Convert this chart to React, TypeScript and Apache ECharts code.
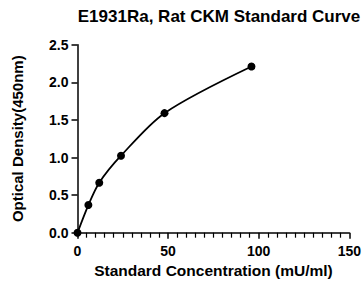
import React, { useEffect, useRef } from "react";
import * as echarts from "echarts";

const concentrations = [0, 6, 12, 24, 48, 96];
const densities = [0.0, 0.368, 0.665, 1.024, 1.59, 2.21];
const titleText = "E1931Ra, Rat CKM Standard Curve";
const xName = "Standard Concentration (mU/ml)";
const yName = "Optical Density(450nm)";

export default function App() {
  const ref = useRef<HTMLDivElement>(null);
  useEffect(() => {
    const chart = echarts.init(ref.current!, null, { renderer: "svg" });
    const font = "Liberation Sans, Arial, sans-serif";
    chart.setOption({
      animation: false,
      title: {
        text: titleText,
        left: 214,
        top: 3,
        textAlign: "center",
        textStyle: { fontFamily: font, fontWeight: "bold", fontSize: 17, color: "#000" },
      },
      grid: { left: 77.5, right: 11.5, top: 44.7, bottom: 53.3 },
      xAxis: {
        type: "value",
        min: 0,
        max: 150,
        interval: 50,
        name: xName,
        nameLocation: "middle",
        nameGap: 30,
        nameTextStyle: { fontFamily: font, fontWeight: "bold", fontSize: 15.5, color: "#000" },
        axisLine: { lineStyle: { color: "#000", width: 1.5 } },
        axisTick: { length: 6, lineStyle: { color: "#000", width: 1.5 } },
        minorTick: { show: true, splitNumber: 10, length: 5, lineStyle: { color: "#000", width: 1.2 } },
        axisLabel: { fontFamily: font, fontWeight: "bold", fontSize: 14, color: "#000", margin: 11 },
        splitLine: { show: false },
      },
      yAxis: {
        type: "value",
        min: 0,
        max: 2.5,
        interval: 0.5,
        name: yName,
        nameLocation: "middle",
        nameGap: 53,
        nameTextStyle: { fontFamily: font, fontWeight: "bold", fontSize: 15, color: "#000" },
        axisLine: { show: true, lineStyle: { color: "#000", width: 1.5 } },
        axisTick: { show: true, length: 6, lineStyle: { color: "#000", width: 1.5 } },
        axisLabel: {
          fontFamily: font,
          fontWeight: "bold",
          fontSize: 14,
          color: "#000",
          margin: 9,
          formatter: (v: number) => v.toFixed(1),
        },
        splitLine: { show: false },
      },
      series: [
        {
          type: "line",
          data: concentrations.map((c, i) => [c, densities[i]]),
          smooth: 0.3,
          symbol: "circle",
          symbolSize: 8,
          itemStyle: { color: "#000" },
          lineStyle: { color: "#000", width: 1.8 },
        },
      ],
    });
    return () => chart.dispose();
  }, []);
  return <div ref={ref} style={{ width: 364, height: 286, position: "absolute", left: 0, top: 0 }} />;
}
